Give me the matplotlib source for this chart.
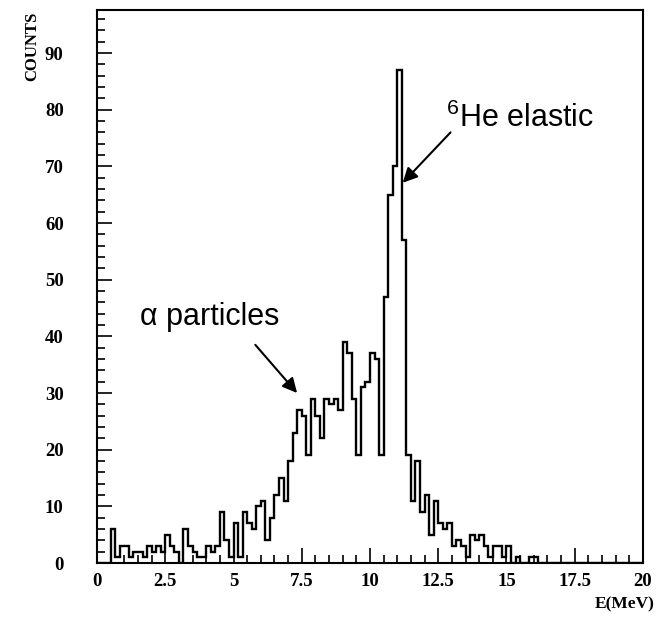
import matplotlib

matplotlib.use("Agg")
import matplotlib.pyplot as plt
import numpy as np
from matplotlib.ticker import MultipleLocator, FuncFormatter

# histogram: 120 bins of 1/6 MeV between 0 and 20 MeV
e_min, e_max, n_bins = 0.0, 20.0, 120
counts = [
    0, 0, 0, 6, 1, 3, 3, 1, 2, 2, 1, 3, 2, 3, 2, 5, 3, 2, 0, 6,
    3, 2, 1, 1, 3, 2, 3, 9, 4, 1, 7, 1, 9, 7, 6, 10, 11, 4, 8, 12,
    15, 11, 18, 23, 27, 26, 19, 29, 26, 22, 29, 28, 29, 27, 39, 37, 29, 19, 31, 32,
    37, 36, 19, 47, 65, 70, 87, 57, 19, 11, 18, 9, 12, 5, 11, 7, 6, 7, 3, 4,
    3, 1, 5, 4, 5, 3, 1, 3, 3, 1, 3, 0, 1, 0, 0, 1, 1, 0, 0, 0,
    0, 0, 0, 0, 0, 0, 0, 0, 0, 0, 0, 0, 0, 0, 0, 0, 0, 0, 0, 0,
]
x_ticks = [0, 2.5, 5, 7.5, 10, 12.5, 15, 17.5, 20]
y_ticks = [0, 10, 20, 30, 40, 50, 60, 70, 80, 90]

plt.rcParams["mathtext.fontset"] = "custom"
plt.rcParams["mathtext.rm"] = "Liberation Sans"
plt.rcParams["mathtext.default"] = "regular"

serif = "Liberation Serif"
sans = "Liberation Sans"

edges = np.linspace(e_min, e_max, n_bins + 1)

fig = plt.figure(figsize=(6.57, 6.17), dpi=100)
ax = fig.add_axes([97 / 657, 1 - 563 / 617, 546 / 657, 553 / 617])

ax.stairs(counts, edges, color="black", lw=1.7, baseline=0)

ax.set_xlim(e_min, e_max)
ax.set_ylim(0, 97.6)
ax.set_xticks(x_ticks)
ax.set_yticks(y_ticks)
ax.xaxis.set_minor_locator(MultipleLocator(0.5))
ax.yaxis.set_minor_locator(MultipleLocator(2))
ax.xaxis.set_major_formatter(FuncFormatter(lambda v, _: f"{v:g}"))

ax.tick_params(which="both", direction="in", top=False, right=False, width=1.2)
ax.tick_params(which="major", length=11)
ax.tick_params(which="minor", length=5.5)
ax.tick_params(axis="x", which="major", pad=7)
ax.tick_params(axis="y", which="major", pad=24)
for lbl in ax.get_xticklabels() + ax.get_yticklabels():
    lbl.set_fontfamily(serif)
    lbl.set_fontweight("bold")
    lbl.set_fontsize(13.5)
for sp in ax.spines.values():
    sp.set_linewidth(1.5)

fig.text(32 / 657, 1 - 12 / 617, "COUNTS", rotation=90, ha="center", va="top",
         family=serif, weight="bold", fontsize=12)
fig.text(655 / 657, 1 - 612 / 617, "E(MeV)", ha="right", va="bottom",
         family=serif, weight="bold", fontsize=12.5)

arrow = dict(arrowstyle="-|>", color="black", lw=1.5, mutation_scale=22,
             shrinkA=0, shrinkB=0)
ax.annotate("", xy=(7.33, 30.0), xytext=(5.8, 38.5), arrowprops=arrow)
ax.text(1.58, 42.0, "α particles", family=sans, fontsize=22, va="baseline")

ax.annotate("", xy=(11.2, 67.1), xytext=(12.95, 76.0), arrowprops=arrow)
ax.text(12.78, 77.0, "$^{6}$He elastic", family=sans, fontsize=22, va="baseline")

fig.savefig("out.png", dpi=100)
